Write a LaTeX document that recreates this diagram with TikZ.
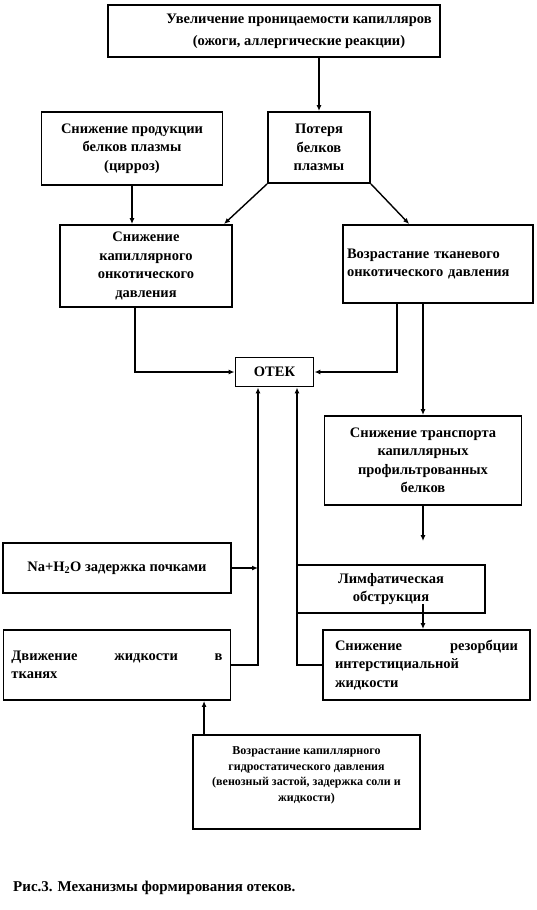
\documentclass[tikz,border=0pt]{standalone}
\usepackage{fontspec}
\setmainfont{Liberation Serif}
\usetikzlibrary{arrows.meta,positioning,calc}
\tikzset{
  >={Latex[length=6pt,width=5pt]},
  every node/.style={font=\bfseries\fontsize{14.5}{18.5}\selectfont,text=black},
  blk/.style={draw=black,line width=1.9pt,fill=white,align=center,inner sep=3pt},
  smallblk/.style={blk,font=\bfseries\fontsize{12}{15.5}\selectfont},
  arrow/.style={->,line width=1.4pt,draw=black},
  caption/.style={anchor=west,inner sep=0pt,font=\bfseries\fontsize{15}{18}\selectfont}
}
\begin{document}
\begin{tikzpicture}[x=1pt,y=-1pt]
  \useasboundingbox (0,0) rectangle (537,910);

  \node[blk,minimum width=332pt,minimum height=52pt] (perm) at (274,31) {\hspace*{50pt}\begin{tabular}{@{}c@{}}Увеличение проницаемости капилляров\\[3pt](ожоги, аллергические реакции)\end{tabular}};
  \node[blk,minimum width=181pt,minimum height=73pt] (prod) at (132,148.5) {Снижение продукции\\белков плазмы\\(цирроз)};
  \node[blk,minimum width=102pt,minimum height=71pt] (loss) at (319,147.5) {Потеря\\белков\\плазмы};
  \node[blk,minimum width=172pt,minimum height=82pt] (capdrop) at (146,266) {Снижение\\капиллярного\\онкотического\\давления};
  \node[blk,text width=182pt,inner xsep=4pt,minimum height=78pt,align=left] (tissue) at (438,264) {Возрастание тканевого\\онкотического давления};
  \node[blk,minimum width=78pt,minimum height=29pt] (edema) at (274.5,372) {ОТЕК};
  \node[blk,minimum width=197pt,minimum height=89pt] (transp) at (423,460.5) {Снижение транспорта\\капиллярных\\профильтрованных\\белков};
  \node[blk,minimum width=228pt,minimum height=50pt] (kidney) at (117,568) {Na+H\textsubscript{2}O задержка почками};
  \node[blk,minimum width=188pt,minimum height=48pt] (lymph) at (391,589) {Лимфатическая\\обструкция};
  \node[blk,text width=183pt,inner xsep=12pt,minimum height=70pt,align=justify] (resorb) at (426.5,665) {Снижение резорбции\linebreak интерстициальной\\жидкости};
  \node[blk,text width=211pt,inner xsep=8pt,minimum height=70pt,align=justify] (move) at (117,665) {Движение жидкости в\linebreak тканях};
  \node[smallblk,minimum width=227pt,minimum height=94pt,text depth=16pt] (hydro) at (306.5,782) {Возрастание капиллярного\\гидростатического давления\\(венозный застой, задержка соли и\\жидкости)};
  \node[caption] (cap) at (13,888) {Рис.3. Механизмы формирования отеков.};

  \coordinate (leftin) at ([xshift=-16.5pt]edema.south);
  \coordinate (rightin) at ([xshift=22.5pt]edema.south);
  \coordinate (hydroout) at ([xshift=12pt]hydro.north west);

  \draw[arrow] (perm.south -| loss.north) -- (loss.north);
  \draw[arrow] (prod.south) -- (prod.south |- capdrop.north);
  \draw[arrow] (loss.south west) -- ([xshift=-9pt]capdrop.north east);
  \draw[arrow] (loss.south east) -- ($(tissue.north west)!0.35!(tissue.north east)$);
  \draw[arrow] ([xshift=-11pt]capdrop.south) |- (edema.west);
  \draw[arrow] ([xshift=-41pt]tissue.south) |- (edema.east);
  \draw[arrow] (tissue.south -| transp.north) -- (transp.north);
  \draw[arrow,shorten >=23pt] (transp.south) -- (transp.south |- lymph.north);
  \draw[arrow] ([yshift=10pt]lymph.south -| transp.south) -- (transp.south |- resorb.north);
  \draw[arrow] (move.east) -| (leftin);
  \draw[arrow] (kidney.east) -- (kidney.east -| leftin);
  \draw[arrow] (resorb.west) -| (rightin);
  \draw[arrow] (hydroout) -- (hydroout |- move.south);
\end{tikzpicture}
\end{document}
